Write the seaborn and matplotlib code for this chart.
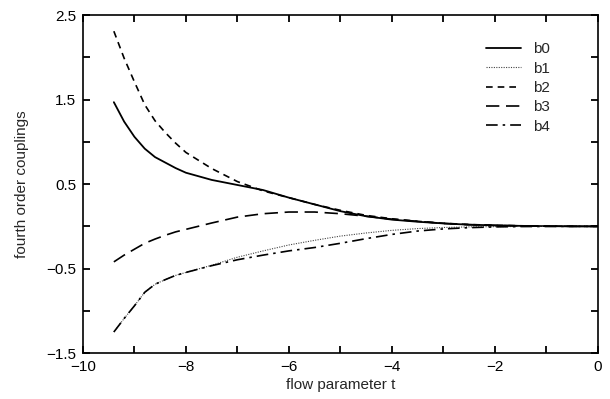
import numpy as np
import pandas as pd
import matplotlib
matplotlib.use("Agg")
import matplotlib.pyplot as plt
import seaborn as sns

t = [-9.4, -9.2, -9.0, -8.8, -8.6, -8.4, -8.2, -8.0, -7.5, -7.0, -6.5, -6.0,
     -5.5, -5.0, -4.5, -4.0, -3.5, -3.0, -2.5, -2.0, -1.5, -1.0, -0.5, 0.0]
b0 = [1.47, 1.24, 1.06, 0.92, 0.82, 0.755, 0.69, 0.635, 0.55, 0.49, 0.43, 0.34,
      0.26, 0.18, 0.12, 0.08, 0.055, 0.035, 0.02, 0.012, 0.006, 0.003, 0.001, 0.0]
b1 = [-1.25, -1.09, -0.94, -0.78, -0.685, -0.63, -0.58, -0.545, -0.46, -0.365, -0.29, -0.22,
      -0.165, -0.115, -0.078, -0.047, -0.026, -0.013, -0.006, -0.003, -0.001, 0.0, 0.0, 0.0]
b2 = [2.31, 1.99, 1.71, 1.44, 1.25, 1.11, 0.985, 0.875, 0.685, 0.53, 0.42, 0.34,
      0.26, 0.19, 0.13, 0.09, 0.06, 0.037, 0.022, 0.013, 0.007, 0.003, 0.001, 0.0]
b3 = [-0.42, -0.34, -0.27, -0.20, -0.15, -0.105, -0.065, -0.035, 0.04, 0.11, 0.15, 0.17,
      0.17, 0.15, 0.12, 0.085, 0.06, 0.035, 0.02, 0.012, 0.006, 0.003, 0.001, 0.0]
b4 = [-1.25, -1.09, -0.94, -0.78, -0.685, -0.63, -0.58, -0.545, -0.465, -0.395, -0.34, -0.29,
      -0.25, -0.20, -0.145, -0.095, -0.055, -0.03, -0.015, -0.006, -0.002, -0.001, 0.0, 0.0]

labels = ["b0", "b1", "b2", "b3", "b4"]
series = [b0, b1, b2, b3, b4]

xticks = [-10, -8, -6, -4, -2, 0]
xticklabels = ["\u221210", "\u22128", "\u22126", "\u22124", "\u22122", "0"]
yticks = [-1.5, -0.5, 0.5, 1.5, 2.5]
yticklabels = ["\u22121.5", "\u22120.5", "0.5", "1.5", "2.5"]

sns.set_theme(style="ticks")
plt.rcParams['font.family'] = ['Liberation Sans', 'DejaVu Sans']
plt.rcParams.update({
    "xtick.direction": "in", "ytick.direction": "in",
    "xtick.top": True, "ytick.right": True,
    "xtick.major.size": 5, "xtick.minor.size": 5,
    "ytick.major.size": 5, "ytick.minor.size": 5,
    "xtick.major.width": 1.3, "xtick.minor.width": 1.3,
    "ytick.major.width": 1.3, "ytick.minor.width": 1.3,
    "xtick.color": "black", "ytick.color": "black",
    "xtick.labelcolor": "black", "ytick.labelcolor": "black",
    "xtick.major.pad": 5, "ytick.major.pad": 5,
})

fig = plt.figure(figsize=(6.1, 3.99), dpi=100)
ax = fig.add_axes([0.136, 0.115, 0.844, 0.847])

styles = {
    "b0": dict(linestyle="-", linewidth=1.3, color="black"),
    "b1": dict(linestyle=(0, (1, 1.2)), linewidth=0.8, color="#444444"),
    "b2": dict(linestyle=(0, (4, 3)), linewidth=1.2, color="black"),
    "b3": dict(linestyle=(0, (8, 4)), linewidth=1.2, color="black"),
    "b4": dict(linestyle=(0, (7, 3, 1.5, 3)), linewidth=1.2, color="black"),
}

for lab, vals in zip(labels, series):
    df = pd.DataFrame({"t": t, "v": vals})
    sns.lineplot(data=df, x="t", y="v", ax=ax, label=lab, **styles[lab])

ax.set_xlim(-10, 0)
ax.set_ylim(-1.5, 2.5)
ax.set_xticks(xticks)
ax.set_xticklabels(xticklabels)
ax.set_xticks([-9, -7, -5, -3, -1], minor=True)
ax.set_yticks(yticks)
ax.set_yticklabels(yticklabels)
ax.set_yticks([-1.0, 0.0, 1.0, 2.0], minor=True)

ax.tick_params(which="both", direction="in", top=True, right=True, labelsize=11,
               width=1.3, colors="black", length=5, pad=5)
for s in ax.spines.values():
    s.set_linewidth(1.2)
    s.set_color("black")
    s.set_zorder(3)

ax.set_xlabel("flow parameter t", fontsize=11, labelpad=3)
ax.set_ylabel("fourth order couplings", fontsize=11, labelpad=12)

leg = ax.legend(loc="upper right", bbox_to_anchor=(0.907, 0.92), frameon=False,
                borderaxespad=0, borderpad=0,
                fontsize=11, handlelength=2.3, labelspacing=0.35, handletextpad=0.8)

fig.savefig("out.png", dpi=100)
